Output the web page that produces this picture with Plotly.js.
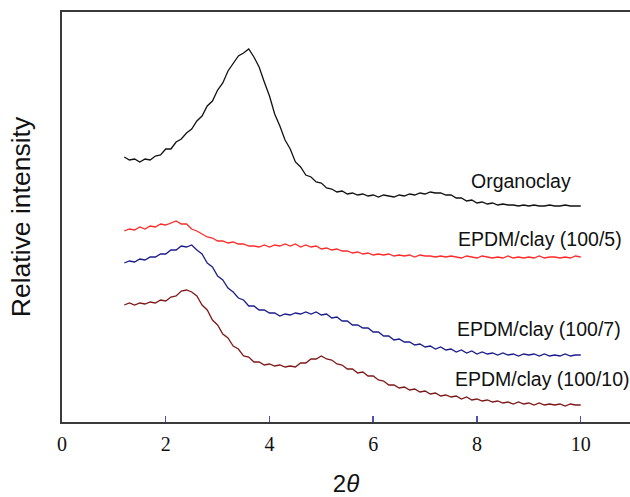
<!DOCTYPE html>
<html>
<head>
<meta charset="utf-8">
<script src="https://cdn.plot.ly/plotly-3.0.1.min.js"></script>
<style>
  html, body { margin: 0; padding: 0; background: #fff; }
  #chart { width: 630px; height: 497px; }
</style>
</head>
<body>
<div id="chart"></div>
<script>
// 2θ grid (degrees)
const twoTheta = [
  1.2,1.3,1.4,1.5,1.6,1.7,1.8,1.9,2.0,2.1,
  2.2,2.3,2.4,2.5,2.6,2.7,2.8,2.9,3.0,3.1,
  3.2,3.3,3.4,3.5,3.6,3.7,3.8,3.9,4.0,4.1,
  4.2,4.3,4.4,4.5,4.6,4.7,4.8,4.9,5.0,5.1,
  5.2,5.3,5.4,5.5,5.6,5.7,5.8,5.9,6.0,6.1,
  6.2,6.3,6.4,6.5,6.6,6.7,6.8,6.9,7.0,7.1,
  7.2,7.3,7.4,7.5,7.6,7.7,7.8,7.9,8.0,8.1,
  8.2,8.3,8.4,8.5,8.6,8.7,8.8,8.9,9.0,9.1,
  9.2,9.3,9.4,9.5,9.6,9.7,9.8,9.9,10.0
];

// Relative intensity (arbitrary units, curves offset vertically)
const organoclay = [
  265,262,263,260,263,262,266,267,273,273,
  280,283,289,293,301,306,316,321,332,339,
  351,358,366,369,373,365,355,340,326,308,
  296,282,273,260,255,247,245,240,239,234,
  233,230,231,228,229,227,228,226,227,225,
  227,226,225,227,226,228,227,229,228,230,
  229,229,227,227,224,224,221,222,219,220,
  218,219,217,218,217,217,216,217,216,217,
  216,216,217,216,216,217,216,216,216
];
const epdm5 = [
  191,193,192,195,193,196,195,198,197,199,
  201,198,198,193,191,188,185,184,181,181,
  179,180,178,178,176,176,175,177,175,177,
  176,178,176,178,175,177,175,176,173,174,
  172,173,171,171,169,170,168,169,167,168,
  167,168,166,167,166,167,165,167,166,166,
  165,166,165,166,165,164,166,165,164,166,
  165,164,165,164,166,164,165,164,165,164,
  166,164,165,165,164,165,164,166,165
];
const epdm7 = [
  159,161,160,163,162,165,165,168,168,172,
  172,176,175,177,172,168,159,155,146,142,
  134,130,124,122,116,116,112,112,109,109,
  106,108,107,109,108,110,108,110,107,108,
  104,105,101,101,97,97,94,94,90,90,
  86,86,82,83,80,80,77,78,75,76,
  73,75,72,73,70,72,69,71,68,70,
  68,69,67,69,67,68,66,68,67,68,
  66,68,66,67,66,68,66,67,67
];
const epdm10 = [
  117,119,117,119,118,120,119,122,121,125,
  126,131,132,130,126,117,112,102,97,88,
  84,76,73,66,65,60,60,57,58,56,
  57,55,56,55,59,59,63,63,66,63,
  62,58,57,53,53,49,50,46,46,42,
  41,37,37,34,35,32,33,30,31,28,
  29,26,27,25,26,23,25,22,23,21,
  22,20,21,19,20,18,20,18,19,17,
  19,17,18,17,18,16,18,17,17
];

const seriesNames = ["Organoclay", "EPDM/clay (100/5)", "EPDM/clay (100/7)", "EPDM/clay (100/10)"];
const seriesData = [organoclay, epdm5, epdm7, epdm10];
const seriesColors = ["#111111", "#ff2a2a", "#1c1c8e", "#801818"];
const tickValues = [0, 2, 4, 6, 8, 10];
const tickLabels = ["0", "2", "4", "6", "8", "10"];

const traces = seriesData.map((ys, i) => ({
  type: "scatter",
  mode: "lines",
  name: seriesNames[i],
  x: twoTheta,
  y: ys,
  line: { color: seriesColors[i], width: 1.3 },
  hoverinfo: "skip"
}));

// label anchor positions (layout only)
const labelPos = [
  { x: 8.85, y: 241 },
  { x: 9.215, y: 183 },
  { x: 9.19, y: 93 },
  { x: 9.245, y: 43 }
];

const annotations = seriesNames.map((name, i) => ({
  text: name,
  x: labelPos[i].x,
  y: labelPos[i].y,
  xref: "x",
  yref: "y",
  showarrow: false,
  xanchor: "center",
  yanchor: "middle",
  font: { family: "Liberation Sans, Arial, sans-serif", size: 19.5, color: "#111" }
}));

const layout = {
  width: 630,
  height: 497,
  margin: { l: 62, r: 0, t: 12, b: 75 },
  paper_bgcolor: "#ffffff",
  plot_bgcolor: "#ffffff",
  showlegend: false,
  xaxis: {
    range: [0, 10.95],
    tickvals: tickValues,
    ticktext: tickLabels,
    ticks: "inside",
    ticklen: 6,
    tickwidth: 1.5,
    tickcolor: "#5050b4",
    ticklabelstandoff: 3,
    showline: true,
    linecolor: "#3a3a3a",
    linewidth: 2,
    mirror: true,
    showgrid: false,
    zeroline: false,
    tickfont: { family: "'Liberation Serif', 'Times New Roman', serif", size: 20, color: "#111" },
    title: {
      text: "2<i>θ</i>",
      font: { family: "Liberation Sans, Arial, sans-serif", size: 24, color: "#111" },
      standoff: 21
    }
  },
  yaxis: {
    range: [0, 410],
    showline: true,
    linecolor: "#3a3a3a",
    linewidth: 2,
    ticks: "",
    showticklabels: false,
    showgrid: false,
    zeroline: false,
    title: {
      text: "Relative intensity",
      font: { family: "Liberation Sans, Arial, sans-serif", size: 26.5, color: "#111" },
      standoff: 22
    }
  },
  annotations: annotations
};

Plotly.newPlot("chart", traces, layout, { staticPlot: true, displayModeBar: false });
</script>
</body>
</html>
